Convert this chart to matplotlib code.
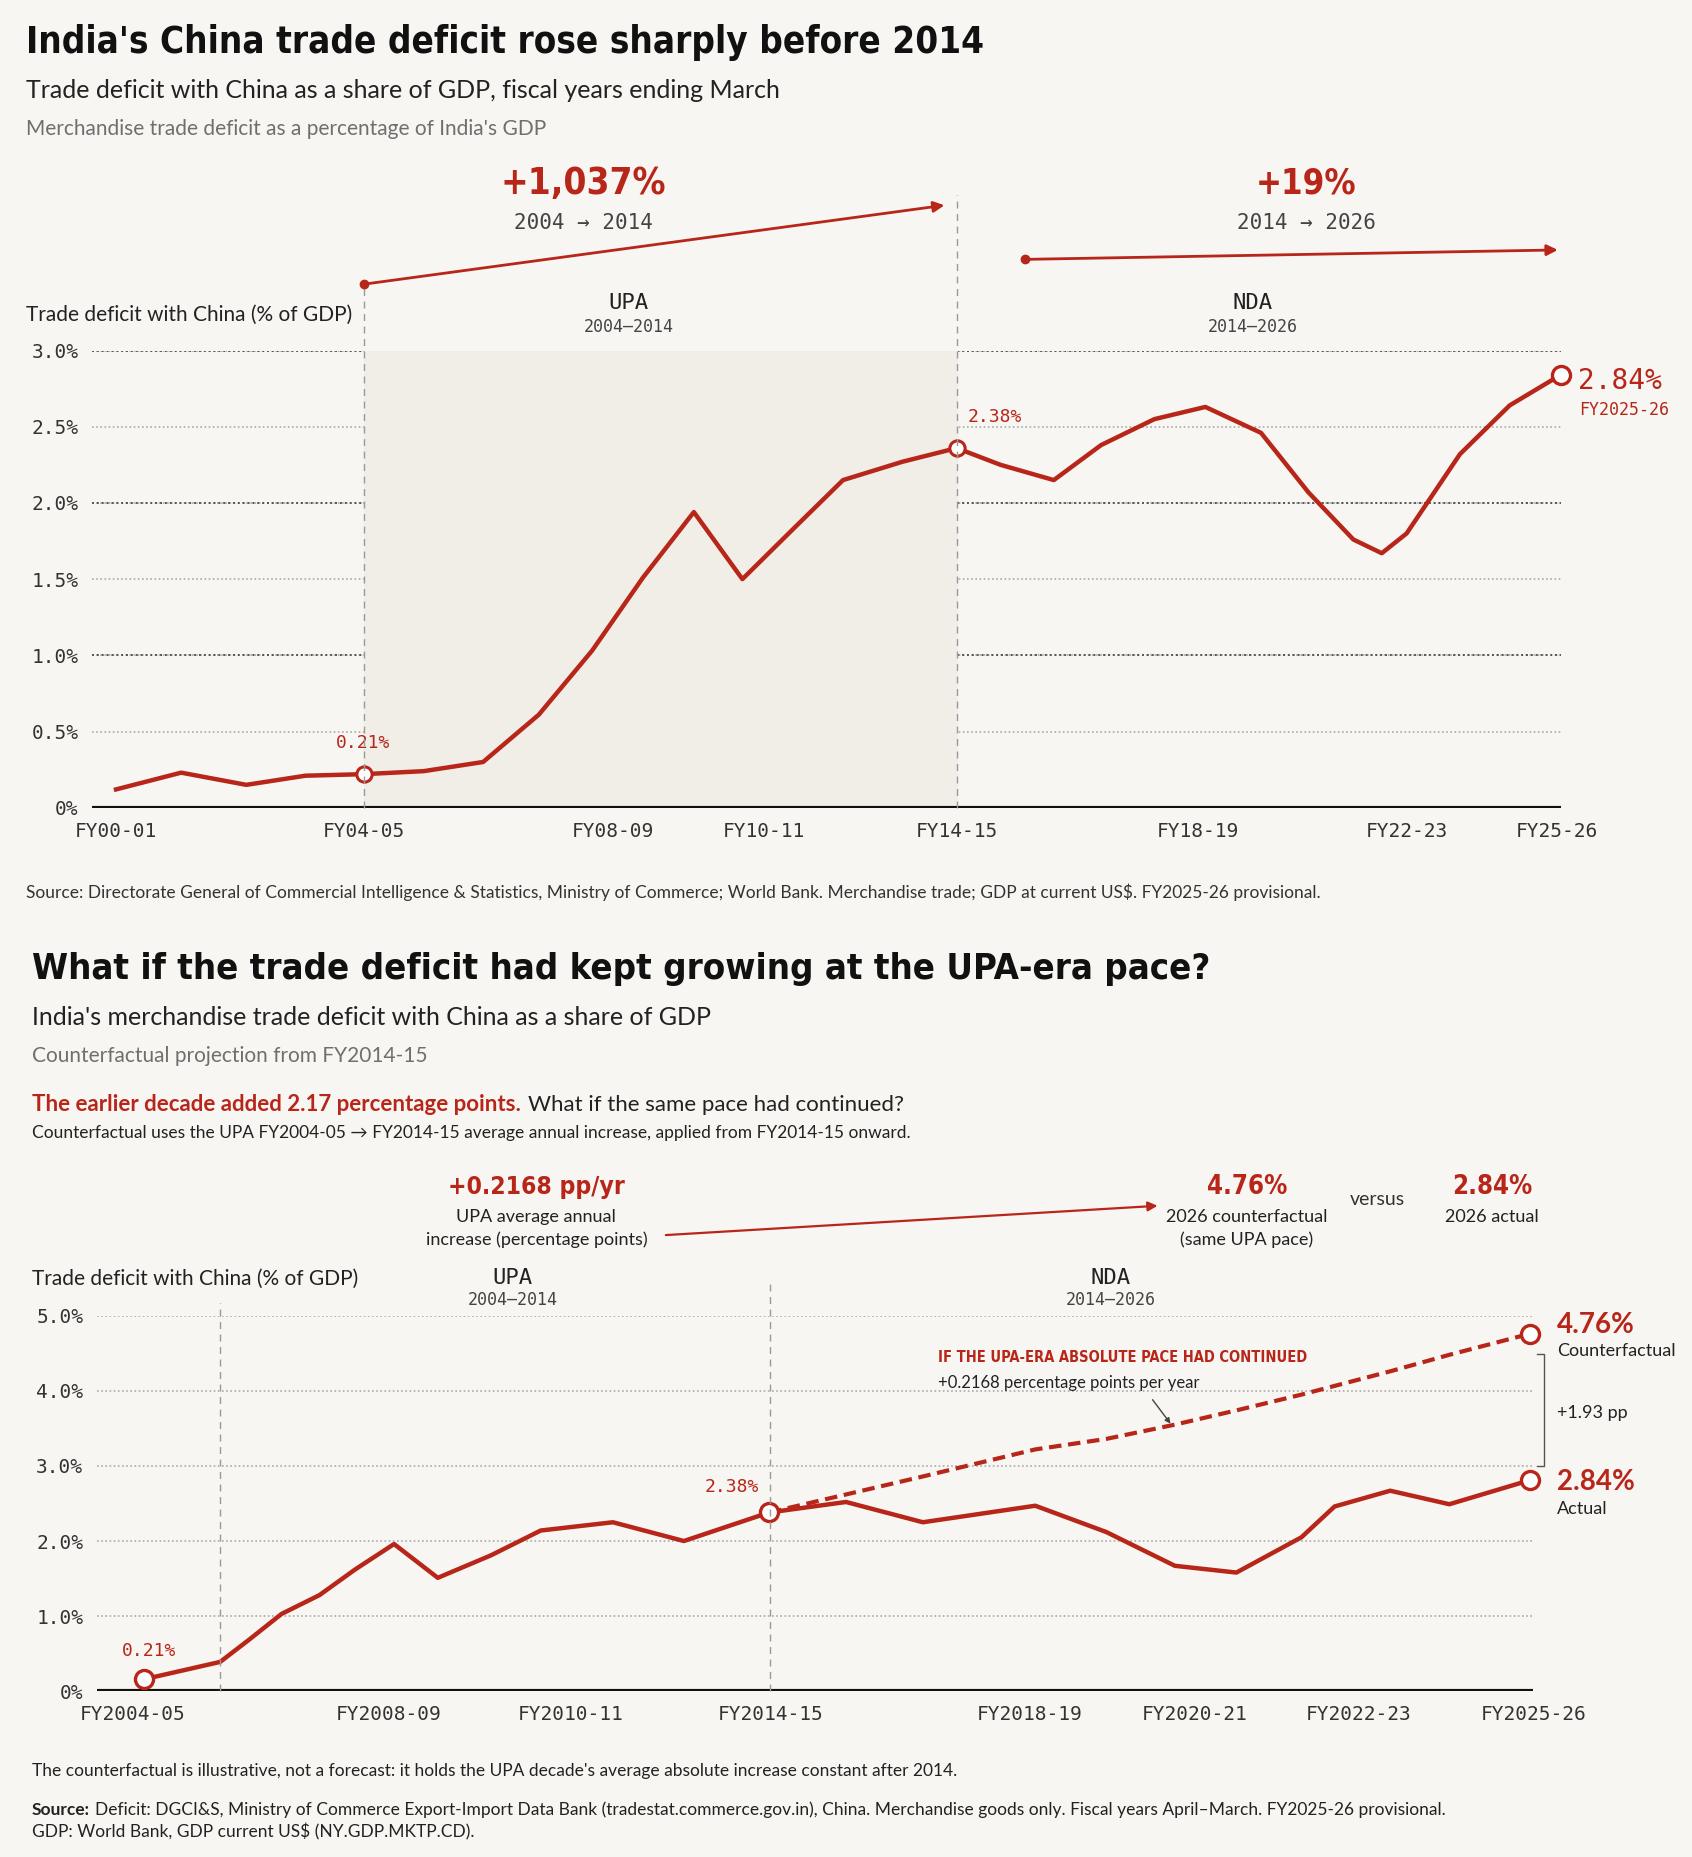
import matplotlib.pyplot as plt
from matplotlib.patches import FancyArrowPatch
from matplotlib.lines import Line2D
from matplotlib import font_manager as fm

# ---- data (x = position along the chart's own uneven time axis) ----
top_x = [98, 153, 208, 258, 307, 358, 408, 455, 500, 543, 586, 627, 670, 712, 762, 808,
         845, 890, 930, 975, 1018, 1065, 1105, 1143, 1167, 1188, 1233, 1275, 1318]
top_y = [0.12, 0.23, 0.15, 0.21, 0.22, 0.24, 0.30, 0.61, 1.03, 1.51, 1.94, 1.50, 1.83, 2.15,
         2.27, 2.36, 2.25, 2.15, 2.38, 2.55, 2.63, 2.46, 2.07, 1.76, 1.67, 1.80, 2.32, 2.64, 2.84]
top_tick_pos = [98, 307, 518, 645, 808, 1012, 1188, 1315]
top_tick_lab = ['FY00-01', 'FY04-05', 'FY08-09', 'FY10-11', 'FY14-15', 'FY18-19', 'FY22-23', 'FY25-26']

bot_x = [122, 186, 210, 238, 270, 300, 333, 370, 415, 457, 518, 578, 650, 715, 780, 875,
         935, 993, 1045, 1100, 1128, 1175, 1225, 1293]
bot_y = [0.16, 0.39, 0.68, 1.03, 1.28, 1.62, 1.96, 1.51, 1.81, 2.14, 2.25, 2.00, 2.38, 2.52,
         2.25, 2.47, 2.12, 1.67, 1.58, 2.05, 2.46, 2.67, 2.49, 2.81]
cf_x = [650, 715, 780, 875, 935, 993, 1045, 1100, 1175, 1225, 1293]
cf_y = [2.38, 2.62, 2.86, 3.22, 3.36, 3.55, 3.74, 3.95, 4.26, 4.48, 4.76]
bot_tick_pos = [112, 328, 482, 651, 870, 1010, 1148, 1296]
bot_tick_lab = ['FY2004-05', 'FY2008-09', 'FY2010-11', 'FY2014-15', 'FY2018-19', 'FY2020-21',
                'FY2022-23', 'FY2025-26']

RED = '#b8261a'
BG = '#f7f6f2'
GRAY = '#6f6f6f'
MONO = ['DejaVu Sans Mono']
SANS = ['Lato', 'DejaVu Sans']
W, H = 1429, 1568

# condensed bold headline font if one is installed, else shrink regular bold
_fp = fm.FontProperties(family='DejaVu Sans', stretch='condensed', weight='bold')
HAS_COND = 'ondensed' in fm.findfont(_fp, fallback_to_default=True)
HEAD = dict(family='DejaVu Sans', stretch='condensed', weight='bold')
HSCALE = 1.0 if HAS_COND else 0.82

fig = plt.figure(figsize=(16.92, 18.57), dpi=100, facecolor=BG)


def fx(x):
    return x / W


def fy(y):
    return 1 - y / H


def txt(x, y, s, **kw):
    kw.setdefault('family', SANS)
    kw.setdefault('va', 'center')
    return fig.text(fx(x), fy(y), s, **kw)


def head(x, y, s, size, **kw):
    return txt(x, y, s, fontsize=size * HSCALE, **HEAD, **kw)


def fit(t, width_px):
    # keep a headline within the reference's width
    fig.canvas.draw()
    w = t.get_window_extent().width / fig.bbox.width * W
    if w > width_px:
        t.set_fontsize(t.get_fontsize() * width_px / w)


def farrow(x0, y0, x1, y1, color=RED, lw=2, ms=16, dot=True):
    a = FancyArrowPatch((fx(x0), fy(y0)), (fx(x1), fy(y1)), transform=fig.transFigure,
                        arrowstyle='-|>', mutation_scale=ms, color=color, lw=lw)
    fig.patches.append(a)
    if dot:
        fig.lines.append(Line2D([fx(x0)], [fy(y0)], marker='o', ms=6, color=color,
                                transform=fig.transFigure))


def vline(x, y0, y1):
    fig.lines.append(Line2D([fx(x), fx(x)], [fy(y0), fy(y1)], transform=fig.transFigure,
                            color='#999999', lw=1, ls=(0, (5, 4))))


def style_ax(ax, ymax, ystep, yfmt):
    ax.set_facecolor('none')
    for s in ax.spines.values():
        s.set_visible(False)
    ax.axhline(0, color='#111111', lw=3, zorder=3)
    ax.set_ylim(0, ymax)
    ticks = [i * ystep for i in range(int(round(ymax / ystep)) + 1)]
    ax.set_yticks(ticks)
    ax.set_yticklabels([yfmt(t) for t in ticks], family=MONO, fontsize=14, color='#333333')
    ax.tick_params(length=0, pad=10)
    for t in ticks[1:]:
        ax.axhline(t, color='#aaaaaa', lw=1.2, ls=(0, (1, 1.5)), zorder=0)


# ================= TOP CHART =================
t = head(22, 36, "India's China trade deficit rose sharply before 2014", 34, color='#111111')
fit(t, 810)
txt(22, 76, "Trade deficit with China as a share of GDP, fiscal years ending March",
    fontsize=18, color='#222222')
txt(22, 109, "Merchandise trade deficit as a percentage of India's GDP", fontsize=15, color=GRAY)

ax1 = fig.add_axes([fx(78), fy(682), fx(1318) - fx(78), fy(296) - fy(682)])
style_ax(ax1, 3.0, 0.5, lambda t: '0%' if t == 0 else f'{t:.1f}%')
for v in [1.0, 2.0, 3.0]:
    ax1.axhline(v, color='#555555', lw=1.4, ls=(0, (1, 1.5)), zorder=0)
ax1.set_xlim(78, 1318)
ax1.set_xticks(top_tick_pos)
ax1.set_xticklabels(top_tick_lab, family=MONO, fontsize=14, color='#333333')
ax1.axvspan(307, 808, color='#f0eee7', zorder=0)
ax1.plot(top_x, top_y, color=RED, lw=3.2, zorder=4, clip_on=False)
for i, lab, dx, ha in [(4, '0.21%', 0, 'center'), (15, '2.38%', 8, 'left')]:
    ax1.plot(top_x[i], top_y[i], 'o', ms=11, mfc='white', mec=RED, mew=2.2, zorder=5)
    ax1.annotate(lab, (top_x[i], top_y[i]), xytext=(dx, 16), textcoords='offset points',
                 ha=ha, va='bottom', family=MONO, fontsize=13, color=RED)
ax1.plot(top_x[-1], top_y[-1], 'o', ms=13, mfc='white', mec=RED, mew=2.4, zorder=5, clip_on=False)
txt(1333, 322, '2.84%', family=MONO, fontsize=20, color=RED)
txt(1334, 346, 'FY2025-26', family=MONO, fontsize=12, color=RED)

vline(307, 682, 240)
vline(808, 682, 165)
txt(22, 266, 'Trade deficit with China (% of GDP)', fontsize=15, color='#222222')
txt(531, 256, 'UPA', family=MONO, fontsize=16, ha='center', color='#222222')
txt(531, 276, '2004–2014', family=MONO, fontsize=12, ha='center', color='#444444')
txt(1058, 256, 'NDA', family=MONO, fontsize=16, ha='center', color='#222222')
txt(1058, 276, '2014–2026', family=MONO, fontsize=12, ha='center', color='#444444')
farrow(307, 240, 800, 173)
farrow(866, 219, 1318, 211)
t = head(493, 155, '+1,037%', 32, ha='center', color=RED)
fit(t, 140)
txt(493, 188, '2004 → 2014', family=MONO, fontsize=15, ha='center', color='#444444')
t = head(1103, 155, '+19%', 32, ha='center', color=RED)
fit(t, 85)
txt(1103, 188, '2014 → 2026', family=MONO, fontsize=15, ha='center', color='#444444')
txt(22, 753, 'Source: Directorate General of Commercial Intelligence & Statistics, Ministry of Commerce; '
    'World Bank. Merchandise trade; GDP at current US$. FY2025-26 provisional.',
    fontsize=12.5, color='#333333')

# ================= BOTTOM CHART =================
t = head(27, 818, 'What if the trade deficit had kept growing at the UPA-era pace?', 34,
         color='#111111')
fit(t, 995)
txt(27, 859, "India's merchandise trade deficit with China as a share of GDP", fontsize=18,
    color='#222222')
txt(27, 892, 'Counterfactual projection from FY2014-15', fontsize=15, color=GRAY)
t = txt(27, 933, 'The earlier decade added 2.17 percentage points.', fontsize=16,
        weight='bold', color=RED)
fig.canvas.draw()
bb = t.get_window_extent()
fig.text(bb.x1 / fig.bbox.width + 0.004, fy(933), 'What if the same pace had continued?',
         family=SANS, fontsize=16, color='#222222', va='center')
txt(27, 957, 'Counterfactual uses the UPA FY2004-05 → FY2014-15 average annual increase, '
    'applied from FY2014-15 onward.', fontsize=12.5, color='#222222')

t = head(453, 1002, '+0.2168 pp/yr', 24, ha='center', color=RED)
fit(t, 150)
txt(453, 1028, 'UPA average annual', fontsize=13, ha='center', color='#222222')
txt(453, 1047, 'increase (percentage points)', fontsize=13, ha='center', color='#222222')
farrow(560, 1043, 980, 1018, dot=False, lw=1.6, ms=14)
t = head(1053, 1002, '4.76%', 24, ha='center', color=RED)
fit(t, 68)
txt(1053, 1028, '2026 counterfactual', fontsize=13, ha='center', color='#222222')
txt(1053, 1047, '(same UPA pace)', fontsize=13, ha='center', color='#222222')
txt(1163, 1013, 'versus', fontsize=14, ha='center', color='#333333')
t = head(1260, 1002, '2.84%', 24, ha='center', color=RED)
fit(t, 68)
txt(1260, 1028, '2026 actual', fontsize=13, ha='center', color='#222222')

ax2 = fig.add_axes([fx(82), fy(1428), fx(1295) - fx(82), fy(1111) - fy(1428)])
style_ax(ax2, 5.0, 1.0, lambda t: '0%' if t == 0 else f'{t:.1f}%')
ax2.set_xlim(82, 1295)
ax2.set_xticks(bot_tick_pos)
ax2.set_xticklabels(bot_tick_lab, family=MONO, fontsize=14, color='#333333')
ax2.plot(bot_x, bot_y, color=RED, lw=3.2, zorder=4, clip_on=False)
ax2.plot(cf_x, cf_y, color=RED, lw=3, ls=(0, (3, 1.6)), zorder=4, clip_on=False)
for xx, yy in [(bot_x[0], bot_y[0]), (bot_x[12], bot_y[12]), (bot_x[-1], bot_y[-1]),
               (cf_x[-1], cf_y[-1])]:
    ax2.plot(xx, yy, 'o', ms=13, mfc='white', mec=RED, mew=2.4, zorder=5, clip_on=False)
ax2.annotate('0.21%', (bot_x[0], bot_y[0]), xytext=(3, 14), textcoords='offset points',
             ha='center', va='bottom', family=MONO, fontsize=13, color=RED)
ax2.annotate('2.38%', (bot_x[12], bot_y[12]), xytext=(-7, 12), textcoords='offset points',
             ha='right', va='bottom', family=MONO, fontsize=13, color=RED)

vline(186, 1428, 1100)
vline(650, 1428, 1083)
txt(27, 1080, 'Trade deficit with China (% of GDP)', fontsize=15, color='#222222')
txt(433, 1079, 'UPA', family=MONO, fontsize=16, ha='center', color='#222222')
txt(433, 1098, '2004–2014', family=MONO, fontsize=12, ha='center', color='#444444')
txt(938, 1079, 'NDA', family=MONO, fontsize=16, ha='center', color='#222222')
txt(938, 1098, '2014–2026', family=MONO, fontsize=12, ha='center', color='#444444')
t = head(792, 1146, 'IF THE UPA-ERA ABSOLUTE PACE HAD CONTINUED', 13, color=RED)
fit(t, 310)
txt(792, 1168, '+0.2168 percentage points per year', fontsize=12, color='#222222')
farrow(972, 1180, 990, 1204, color='#444444', lw=1, ms=8, dot=False)

txt(1315, 1119, '4.76%', fontsize=20, weight='bold', color=RED)
txt(1315, 1141, 'Counterfactual', fontsize=13, color='#222222')
fig.lines.append(Line2D([fx(1298), fx(1304), fx(1304), fx(1298)],
                        [fy(1143), fy(1143), fy(1238), fy(1238)],
                        transform=fig.transFigure, color='#555555', lw=1))
txt(1315, 1193, '+1.93 pp', fontsize=13, color='#222222')
txt(1315, 1251, '2.84%', fontsize=20, weight='bold', color=RED)
txt(1315, 1274, 'Actual', fontsize=13, color='#222222')

txt(27, 1495, "The counterfactual is illustrative, not a forecast: it holds the UPA decade's average "
    "absolute increase constant after 2014.", fontsize=12.5, color='#222222')
s = txt(27, 1528, 'Source:', fontsize=12.5, weight='bold', color='#222222')
fig.canvas.draw()
bb = s.get_window_extent()
fig.text(bb.x1 / fig.bbox.width + 0.003, fy(1528),
         'Deficit: DGCI&S, Ministry of Commerce Export-Import Data Bank (tradestat.commerce.gov.in), '
         'China. Merchandise goods only. Fiscal years April–March. FY2025-26 provisional.',
         family=SANS, fontsize=12.5, color='#222222', va='center')
txt(27, 1547, 'GDP: World Bank, GDP current US$ (NY.GDP.MKTP.CD).', fontsize=12.5, color='#222222')

fig.savefig('out.png', dpi=100, facecolor=BG)
